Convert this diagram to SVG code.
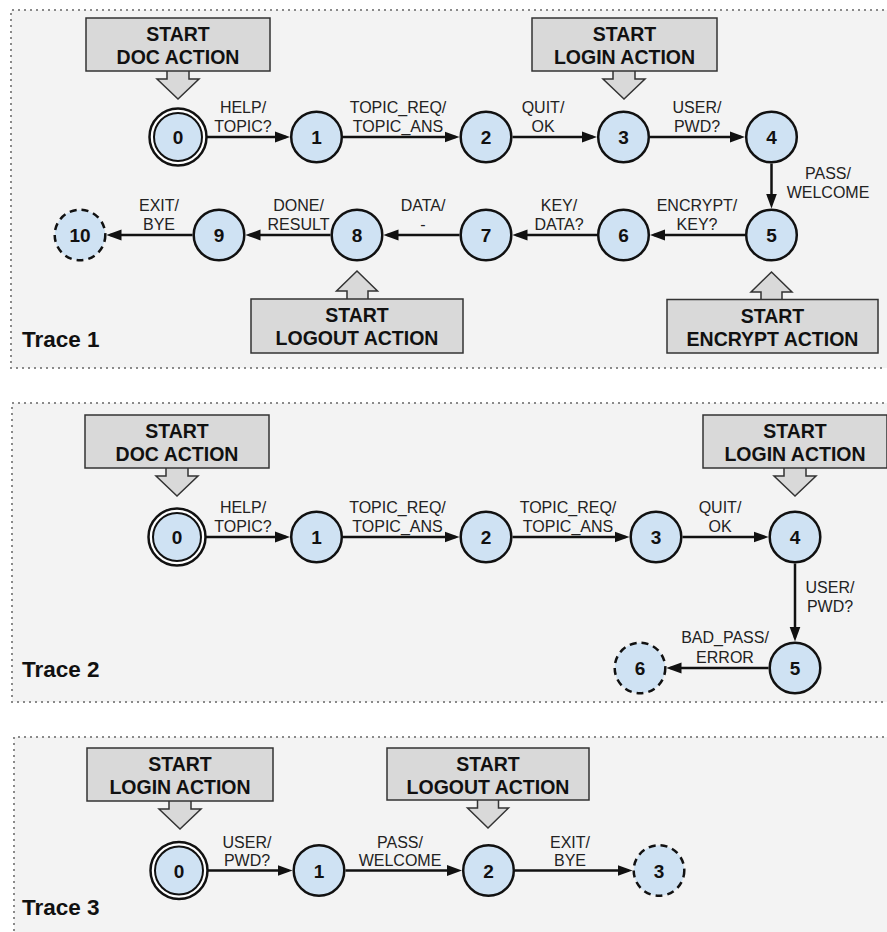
<svg xmlns="http://www.w3.org/2000/svg" width="887" height="932" viewBox="0 0 887 932">
<style>
.panel{fill:#f3f3f3;stroke:none}
.dots{fill:none;stroke:#8a8a8a;stroke-width:2;stroke-dasharray:2 4}
.box{fill:#d9d9d9;stroke:#333;stroke-width:1.5}
.bt{font-family:"Liberation Sans",Arial,sans-serif;font-weight:bold;font-size:19.5px;fill:#111;text-anchor:middle}
.st{fill:#cfe2f3;stroke:#111;stroke-width:2.5}
.fin{fill:#cfe2f3;stroke:#111;stroke-width:2.5;stroke-dasharray:7 5}
.outer{fill:#fff;stroke:#111;stroke-width:2.5}
.inner{fill:#cfe2f3;stroke:#111;stroke-width:2}
.nt{font-family:"Liberation Sans",Arial,sans-serif;font-weight:bold;font-size:19px;fill:#111;text-anchor:middle}
.lb{font-family:"Liberation Sans",Arial,sans-serif;font-size:16px;fill:#222;text-anchor:middle}
.tr{font-family:"Liberation Sans",Arial,sans-serif;font-weight:bold;font-size:22.5px;fill:#111}
.e{fill:none;stroke:#111;stroke-width:2.5;marker-end:url(#ah)}
</style>
<defs>
<marker id="ah" markerWidth="15" markerHeight="12" refX="11" refY="6" orient="auto" markerUnits="userSpaceOnUse">
<path d="M0,0.5 L15,6 L0,11.5 z" fill="#111"/>
</marker>
</defs>

<!-- panels -->
<g id="panels">
<rect class="panel" x="11" y="10" width="880" height="358"/>
<path class="dots" d="M884,10 H11 V368 H884"/>
<rect class="panel" x="12" y="403" width="880" height="299"/>
<path class="dots" d="M884,403 H12 V702 H884"/>
<rect class="panel" x="14" y="737" width="880" height="200"/>
<path class="dots" d="M884,737 H14 V932"/>
<text class="tr" x="22" y="347">Trace 1</text>
<text class="tr" x="22" y="677">Trace 2</text>
<text class="tr" x="22" y="915">Trace 3</text>
</g>

<!-- start action callouts -->
<g id="t1-start-doc">
<polygon class="box" points="167,70 189,70 189,79 199,79 178,99 157,79 167,79"/>
<rect class="box" x="86" y="18" width="184" height="53"/>
<text class="bt" x="178" y="40.5">START</text>
<text class="bt" x="178" y="63.5">DOC ACTION</text>
</g>
<g id="t1-start-login">
<polygon class="box" points="613,70 635,70 635,79 645,79 624,99 603,79 613,79"/>
<rect class="box" x="532" y="18" width="185" height="53"/>
<text class="bt" x="624.5" y="40.5">START</text>
<text class="bt" x="624.5" y="63.5">LOGIN ACTION</text>
</g>
<g id="t1-start-logout">
<polygon class="box" points="347,300 347,291 336.5,291 357,271 377.5,291 368,291 368,300"/>
<rect class="box" x="251" y="299" width="212" height="54"/>
<text class="bt" x="357" y="322">START</text>
<text class="bt" x="357" y="345">LOGOUT ACTION</text>
</g>
<g id="t1-start-encrypt">
<polygon class="box" points="761,300.5 761,292 751,292 771.5,272 792,292 782,292 782,300.5"/>
<rect class="box" x="667" y="299.5" width="211" height="53.5"/>
<text class="bt" x="772.5" y="322.5">START</text>
<text class="bt" x="772.5" y="345.5">ENCRYPT ACTION</text>
</g>
<g id="t2-start-doc">
<polygon class="box" points="166,467 188,467 188,476 198,476 177,496 156,476 166,476"/>
<rect class="box" x="85" y="415" width="184" height="53"/>
<text class="bt" x="177" y="437.5">START</text>
<text class="bt" x="177" y="460.5">DOC ACTION</text>
</g>
<g id="t2-start-login">
<polygon class="box" points="784,467 806,467 806,476 816,476 795,496 774,476 784,476"/>
<rect class="box" x="703" y="415" width="184" height="53"/>
<text class="bt" x="795" y="437.5">START</text>
<text class="bt" x="795" y="460.5">LOGIN ACTION</text>
</g>
<g id="t3-start-login">
<polygon class="box" points="169,800 191,800 191,809 201,809 180,829 159,809 169,809"/>
<rect class="box" x="87" y="748" width="186" height="53"/>
<text class="bt" x="180" y="771">START</text>
<text class="bt" x="180" y="794">LOGIN ACTION</text>
</g>
<g id="t3-start-logout">
<polygon class="box" points="477.5,799 498.5,799 498.5,808 508.5,808 488,828 467.5,808 477.5,808"/>
<rect class="box" x="387" y="748" width="202" height="52"/>
<text class="bt" x="488" y="770.5">START</text>
<text class="bt" x="488" y="793.5">LOGOUT ACTION</text>
</g>

<!-- connectors -->
<g id="connectors">
<path class="e" d="M206.5,137 H286"/>
<path class="e" d="M343,137 H455.5"/>
<path class="e" d="M512.5,137 H593"/>
<path class="e" d="M650,137 H741"/>
<path class="e" d="M771.5,163.5 V204.5"/>
<path class="e" d="M745,235 H654"/>
<path class="e" d="M597,235 H516.5"/>
<path class="e" d="M459.5,235 H387.5"/>
<path class="e" d="M330.5,235 H249.5"/>
<path class="e" d="M192.5,235 H110.5"/>

<path class="e" d="M205.5,537 H286"/>
<path class="e" d="M343,537 H455.5"/>
<path class="e" d="M512.5,537 H625.5"/>
<path class="e" d="M682.5,537 H764.5"/>
<path class="e" d="M795,563.5 V637.5"/>
<path class="e" d="M768.5,668 H670.5"/>

<path class="e" d="M207.5,870.5 H288.5"/>
<path class="e" d="M345.5,870.5 H458"/>
<path class="e" d="M515,870.5 H628.5"/>

<text class="lb" x="243" y="113">HELP/</text><text class="lb" x="243" y="131.5">TOPIC?</text>
<text class="lb" x="398" y="113">TOPIC_REQ/</text><text class="lb" x="398" y="131.5">TOPIC_ANS</text>
<text class="lb" x="543" y="113">QUIT/</text><text class="lb" x="543" y="131.5">OK</text>
<text class="lb" x="697" y="113">USER/</text><text class="lb" x="697" y="131.5">PWD?</text>
<text class="lb" x="828" y="179">PASS/</text><text class="lb" x="828" y="197.5">WELCOME</text>
<text class="lb" x="697" y="211">ENCRYPT/</text><text class="lb" x="697" y="229.5">KEY?</text>
<text class="lb" x="559" y="211">KEY/</text><text class="lb" x="559" y="229.5">DATA?</text>
<text class="lb" x="423" y="211">DATA/</text><text class="lb" x="423" y="229.5">-</text>
<text class="lb" x="298.5" y="211">DONE/</text><text class="lb" x="298.5" y="229.5">RESULT</text>
<text class="lb" x="159" y="211">EXIT/</text><text class="lb" x="159" y="229.5">BYE</text>

<text class="lb" x="243" y="513">HELP/</text><text class="lb" x="243" y="531.5">TOPIC?</text>
<text class="lb" x="397.5" y="513">TOPIC_REQ/</text><text class="lb" x="397.5" y="531.5">TOPIC_ANS</text>
<text class="lb" x="568" y="513">TOPIC_REQ/</text><text class="lb" x="568" y="531.5">TOPIC_ANS</text>
<text class="lb" x="720" y="513">QUIT/</text><text class="lb" x="720" y="531.5">OK</text>
<text class="lb" x="830" y="593">USER/</text><text class="lb" x="830" y="611.5">PWD?</text>
<text class="lb" x="725" y="643">BAD_PASS/</text><text class="lb" x="725" y="662.5">ERROR</text>

<text class="lb" x="247" y="847.5">USER/</text><text class="lb" x="247" y="866">PWD?</text>
<text class="lb" x="400" y="847.5">PASS/</text><text class="lb" x="400" y="866">WELCOME</text>
<text class="lb" x="570" y="847.5">EXIT/</text><text class="lb" x="570" y="866">BYE</text>
</g>

<!-- trace 1 nodes -->
<g id="t1-s0"><circle class="outer" cx="178" cy="137" r="28.5"/><circle class="inner" cx="178" cy="137" r="24"/><text class="nt" x="178" y="144">0</text></g>
<g id="t1-s1"><circle class="st" cx="316.5" cy="137" r="25.3"/><text class="nt" x="316.5" y="144">1</text></g>
<g id="t1-s2"><circle class="st" cx="486" cy="137" r="25.3"/><text class="nt" x="486" y="144">2</text></g>
<g id="t1-s3"><circle class="st" cx="623.5" cy="137" r="25.3"/><text class="nt" x="623.5" y="144">3</text></g>
<g id="t1-s4"><circle class="st" cx="771.5" cy="137" r="25.3"/><text class="nt" x="771.5" y="144">4</text></g>
<g id="t1-s5"><circle class="st" cx="771.5" cy="235" r="25.3"/><text class="nt" x="771.5" y="242">5</text></g>
<g id="t1-s6"><circle class="st" cx="623.5" cy="235" r="25.3"/><text class="nt" x="623.5" y="242">6</text></g>
<g id="t1-s7"><circle class="st" cx="486" cy="235" r="25.3"/><text class="nt" x="486" y="242">7</text></g>
<g id="t1-s8"><circle class="st" cx="357" cy="235" r="25.3"/><text class="nt" x="357" y="242">8</text></g>
<g id="t1-s9"><circle class="st" cx="219" cy="235" r="25.3"/><text class="nt" x="219" y="242">9</text></g>
<g id="t1-s10"><circle class="fin" cx="80" cy="235" r="25.3"/><text class="nt" x="80" y="242">10</text></g>

<!-- trace 2 nodes -->
<g id="t2-s0"><circle class="outer" cx="177" cy="537" r="28.5"/><circle class="inner" cx="177" cy="537" r="24"/><text class="nt" x="177" y="544">0</text></g>
<g id="t2-s1"><circle class="st" cx="316.5" cy="537" r="25.3"/><text class="nt" x="316.5" y="544">1</text></g>
<g id="t2-s2"><circle class="st" cx="486" cy="537" r="25.3"/><text class="nt" x="486" y="544">2</text></g>
<g id="t2-s3"><circle class="st" cx="656" cy="537" r="25.3"/><text class="nt" x="656" y="544">3</text></g>
<g id="t2-s4"><circle class="st" cx="795" cy="537" r="25.3"/><text class="nt" x="795" y="544">4</text></g>
<g id="t2-s5"><circle class="st" cx="795" cy="668" r="25.3"/><text class="nt" x="795" y="675">5</text></g>
<g id="t2-s6"><circle class="fin" cx="640" cy="668" r="25.3"/><text class="nt" x="640" y="675">6</text></g>

<!-- trace 3 nodes -->
<g id="t3-s0"><circle class="outer" cx="179" cy="870.5" r="28.5"/><circle class="inner" cx="179" cy="870.5" r="24"/><text class="nt" x="179" y="877.5">0</text></g>
<g id="t3-s1"><circle class="st" cx="319" cy="870.5" r="25.3"/><text class="nt" x="319" y="877.5">1</text></g>
<g id="t3-s2"><circle class="st" cx="488.5" cy="870.5" r="25.3"/><text class="nt" x="488.5" y="877.5">2</text></g>
<g id="t3-s3"><circle class="fin" cx="659" cy="870.5" r="25.3"/><text class="nt" x="659" y="877.5">3</text></g>
</svg>
